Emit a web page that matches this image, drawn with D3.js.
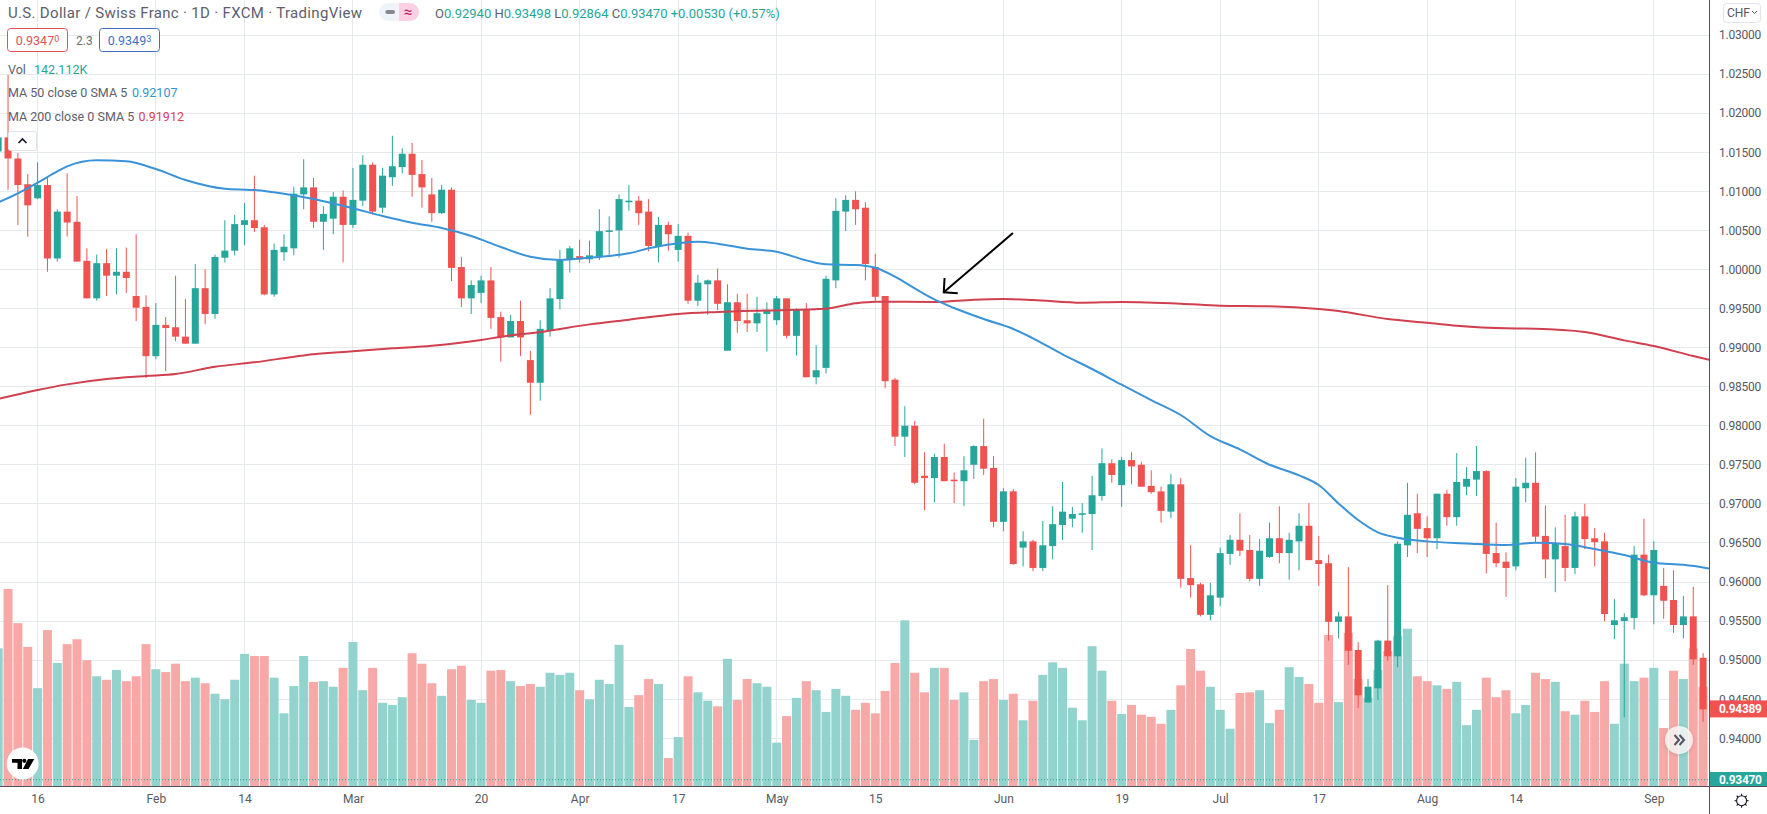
<!DOCTYPE html>
<html><head><meta charset="utf-8">
<script src="https://cdn.jsdelivr.net/npm/d3@7/dist/d3.min.js"></script>
<style>
html,body{margin:0;padding:0;background:#fff;overflow:hidden}
svg{display:block}
text{font-family:Roboto,"Liberation Sans",sans-serif}
</style></head><body><div id="c"></div>
<script>
// First candle is session index -4; session 0 = 16 Jan
const firstIndex = -4;
const opens = [1.0151,1.0169,1.0142,1.0109,1.0091,1.0108,1.0014,1.0074,1.0061,1.0011,
0.9963,1.0008,0.9992,0.9997,0.9966,0.9952,0.9889,0.9929,0.9926,0.9914,
0.9905,0.9976,0.9943,1.0015,1.0024,1.0057,1.0063,1.0054,0.9968,1.0022,
1.0027,1.0096,1.0105,1.0061,1.0065,1.0093,1.0057,1.0088,1.0134,1.0079,
1.0118,1.0131,1.0148,1.0122,1.0096,1.0072,1.0102,1.0003,0.9963,0.9970,
0.9986,0.9939,0.9913,0.9934,0.9884,0.9855,0.9922,0.9962,1.0012,1.0017,
1.0013,1.0017,1.0048,1.0050,1.0086,1.0088,1.0074,1.0030,1.0057,1.0025,
1.0043,0.9960,0.9981,0.9986,0.9896,0.9958,0.9935,0.9931,0.9943,0.9935,
0.9963,0.9915,0.9949,0.9862,0.9874,0.9986,1.0074,1.0089,1.0079,1.0003,
0.9966,0.9859,0.9786,0.9800,0.9736,0.9733,0.9760,0.9731,0.9729,0.9750,
0.9774,0.9746,0.9677,0.9716,0.9644,0.9652,0.9618,0.9646,0.9673,0.9681,
0.9686,0.9687,0.9710,0.9752,0.9724,0.9756,0.9750,0.9723,0.9716,0.9690,
0.9725,0.9605,0.9597,0.9558,0.9580,0.9636,0.9654,0.9641,0.9604,0.9632,
0.9656,0.9637,0.9652,0.9672,0.9628,0.9624,0.9549,0.9556,0.9513,0.9446,
0.9464,0.9525,0.9505,0.9647,0.9688,0.9669,0.9656,0.9713,0.9683,0.9722,
0.9731,0.9742,0.9637,0.9626,0.9620,0.9720,0.9727,0.9659,0.9629,0.9646,
0.9618,0.9684,0.9656,0.9652,0.9545,0.9550,0.9554,0.9635,0.9583,0.9595,
0.9577,0.9545,0.9556,0.9503];
const closes = [1.0169,1.0142,1.0108,1.0082,1.0108,1.0014,1.0074,1.0060,1.0010,0.9963,
1.0008,0.9992,0.9997,0.9989,0.9951,0.9889,0.9929,0.9925,0.9914,0.9905,
0.9976,0.9943,1.0016,1.0024,1.0058,1.0063,1.0053,0.9968,1.0025,1.0029,
1.0097,1.0105,1.0061,1.0071,1.0093,1.0057,1.0089,1.0134,1.0074,1.0120,
1.0132,1.0148,1.0121,1.0105,1.0072,1.0102,1.0002,0.9963,0.9980,0.9986,
0.9938,0.9913,0.9934,0.9913,0.9855,0.9924,0.9963,1.0013,1.0027,1.0013,
1.0018,1.0049,1.0050,1.0090,1.0088,1.0072,1.0030,1.0057,1.0045,1.0043,
0.9960,0.9983,0.9986,0.9956,0.9958,0.9934,0.9931,0.9944,0.9948,0.9963,
0.9915,0.9948,0.9862,0.9871,0.9988,1.0075,1.0089,1.0077,1.0007,0.9965,
0.9857,0.9786,0.9800,0.9727,0.9733,0.9760,0.9729,0.9729,0.9743,0.9774,
0.9745,0.9677,0.9716,0.9623,0.9652,0.9618,0.9647,0.9674,0.9690,0.9687,
0.9688,0.9711,0.9752,0.9737,0.9756,0.9748,0.9722,0.9715,0.9691,0.9725,
0.9604,0.9596,0.9558,0.9583,0.9637,0.9654,0.9640,0.9604,0.9640,0.9656,
0.9637,0.9654,0.9672,0.9628,0.9623,0.9549,0.9556,0.9512,0.9455,0.9466,
0.9525,0.9505,0.9649,0.9686,0.9668,0.9656,0.9713,0.9683,0.9728,0.9732,
0.9742,0.9636,0.9624,0.9618,0.9722,0.9727,0.9658,0.9629,0.9650,0.9618,
0.9684,0.9655,0.9651,0.9559,0.9551,0.9555,0.9635,0.9583,0.9641,0.9576,
0.9545,0.9556,0.9501,0.9437];
const highs = [1.0176,1.0249,1.0149,1.0122,1.0137,1.0117,1.0077,1.0123,1.0094,1.0027,
1.0019,1.0026,1.0027,1.0028,1.0045,0.9967,0.9957,0.9939,0.9992,0.9962,
1.0007,1.0000,1.0019,1.0063,1.0070,1.0085,1.0120,1.0057,1.0033,1.0045,
1.0106,1.0141,1.0117,1.0081,1.0099,1.0101,1.0130,1.0146,1.0137,1.0130,
1.0171,1.0155,1.0162,1.0140,1.0117,1.0108,1.0105,1.0016,0.9986,0.9992,
1.0003,0.9946,0.9942,0.9960,0.9896,0.9935,0.9976,1.0025,1.0030,1.0038,
1.0037,1.0077,1.0068,1.0096,1.0108,1.0094,1.0090,1.0067,1.0061,1.0058,
1.0047,0.9993,0.9987,1.0001,0.9981,0.9969,0.9969,0.9965,0.9958,0.9966,
0.9963,0.9950,0.9957,0.9903,0.9992,1.0091,1.0095,1.0100,1.0086,1.0020,
0.9966,0.9861,0.9825,0.9806,0.9766,0.9764,0.9777,0.9740,0.9761,0.9775,
0.9809,0.9761,0.9720,0.9719,0.9665,0.9654,0.9678,0.9697,0.9728,0.9696,
0.9701,0.9736,0.9771,0.9757,0.9760,0.9766,0.9754,0.9743,0.9722,0.9738,
0.9733,0.9647,0.9599,0.9599,0.9644,0.9660,0.9688,0.9660,0.9655,0.9676,
0.9697,0.9663,0.9688,0.9701,0.9659,0.9635,0.9562,0.9619,0.9523,0.9476,
0.9526,0.9596,0.9652,0.9727,0.9713,0.9684,0.9713,0.9718,0.9765,0.9747,
0.9774,0.9743,0.9676,0.9638,0.9733,0.9759,0.9766,0.9698,0.9670,0.9686,
0.9690,0.9700,0.9669,0.9663,0.9578,0.9560,0.9646,0.9681,0.9652,0.9618,
0.9615,0.9582,0.9594,0.9509];
const lows = [1.0149,1.0102,1.0057,1.0042,1.0090,0.9997,1.0010,1.0042,1.0010,0.9963,
0.9960,0.9966,0.9968,0.9970,0.9934,0.9861,0.9885,0.9870,0.9908,0.9905,
0.9905,0.9930,0.9937,1.0009,1.0018,1.0031,1.0048,0.9967,0.9965,1.0011,
1.0018,1.0077,1.0053,1.0025,1.0045,1.0009,1.0053,1.0081,1.0070,1.0072,
1.0107,1.0123,1.0093,1.0079,1.0061,1.0071,0.9985,0.9952,0.9943,0.9957,
0.9924,0.9882,0.9913,0.9889,0.9814,0.9832,0.9914,0.9949,0.9996,1.0009,
1.0008,1.0012,1.0018,1.0015,1.0075,1.0057,1.0023,1.0009,1.0024,1.0010,
0.9956,0.9953,0.9942,0.9948,0.9896,0.9919,0.9920,0.9920,0.9895,0.9929,
0.9912,0.9890,0.9862,0.9853,0.9867,0.9976,1.0049,1.0057,0.9986,0.9960,
0.9848,0.9774,0.9760,0.9725,0.9692,0.9702,0.9729,0.9701,0.9697,0.9732,
0.9737,0.9670,0.9665,0.9622,0.9620,0.9614,0.9614,0.9629,0.9654,0.9670,
0.9663,0.9641,0.9704,0.9727,0.9696,0.9725,0.9722,0.9713,0.9676,0.9682,
0.9593,0.9580,0.9556,0.9551,0.9569,0.9622,0.9633,0.9601,0.9595,0.9631,
0.9624,0.9603,0.9615,0.9628,0.9595,0.9525,0.9528,0.9494,0.9439,0.9445,
0.9449,0.9499,0.9491,0.9632,0.9637,0.9632,0.9642,0.9672,0.9672,0.9711,
0.9710,0.9611,0.9619,0.9581,0.9615,0.9702,0.9650,0.9605,0.9587,0.9601,
0.9610,0.9642,0.9620,0.9550,0.9527,0.9427,0.9539,0.9582,0.9546,0.9553,
0.9535,0.9528,0.9494,0.9421];
const volumes = [197,282,233,199,140,223,176,203,210,180,157,152,166,150,157,203,167,163,175,150,
155,147,132,124,152,189,186,186,155,104,143,186,149,150,142,169,206,137,169,119,
116,127,190,175,147,129,167,172,123,119,165,166,150,143,146,142,162,159,162,137,
124,152,146,202,113,130,153,146,40,70,157,134,122,114,182,123,153,147,142,62,
100,126,150,137,106,139,129,109,119,104,136,176,237,162,134,169,169,123,134,66,
150,153,123,132,94,122,159,177,169,112,94,200,165,122,103,116,102,99,89,109,
144,196,165,142,109,82,133,134,137,90,109,170,156,146,119,216,120,219,153,126,
166,193,215,225,157,150,144,139,149,87,109,155,127,137,104,116,162,153,149,107,
102,122,106,150,89,175,150,155,169,83,165,153,197,142];

const ma50Index = [-4,-2,0,2,3,6,9,12,15,19,22,25,28,32,35,38,41,44,47,50,53,56,58,60,62,65,67,69,72,75,78,80,83,85,87,89,91,93,96,99,101,104,107,110,113,116,119,122,125,128,130,132,134,136,138,141,145,149,152,155,158,161,164,167,169,170];
const ma50Values = [1.00858,1.00974,1.01110,1.01255,1.01319,1.01396,1.01383,1.01285,1.01144,1.01033,1.01016,1.00969,1.00901,1.00782,1.00684,1.00598,1.00530,1.00428,1.00287,1.00163,1.00121,1.00150,1.00172,1.00206,1.00270,1.00334,1.00355,1.00330,1.00266,1.00227,1.00116,1.00065,1.00057,1.00022,0.99907,0.99758,0.99617,0.99506,0.99365,0.99238,0.99118,0.98913,0.98726,0.98525,0.98329,0.98137,0.97868,0.97697,0.97501,0.97365,0.97241,0.97006,0.96793,0.96635,0.96567,0.96520,0.96494,0.96473,0.96503,0.96486,0.96422,0.96345,0.96247,0.96221,0.96187,0.96162];
const ma200Index = [-4,0,3,7,11,14,18,22,27,32,36,40,45,47,51,56,60,65,69,74,80,83,85,91,95,98,101,106,110,116,120,125,130,132,137,141,144,149,152,157,161,164,168,170];
const ma200Values = [0.98342,0.98457,0.98529,0.98598,0.98636,0.98662,0.98755,0.98811,0.98900,0.98952,0.98990,0.99024,0.99097,0.99139,0.99199,0.99297,0.99357,0.99429,0.99455,0.99476,0.99498,0.99566,0.99587,0.99583,0.99613,0.99621,0.99609,0.99574,0.99583,0.99562,0.99536,0.99528,0.99493,0.99468,0.99365,0.99318,0.99280,0.99246,0.99242,0.99199,0.99092,0.99020,0.98892,0.98832];

const priceTicks = [1.03,1.025,1.02,1.015,1.01,1.005,1,0.995,0.99,0.985,0.98,0.975,0.97,0.965,0.96,0.955,0.95,0.945,0.94];
const timeTickIndex = [0,12,21,32,45,55,65,75,85,98,110,120,130,141,150,164];
const timeTickLabels = ["16","Feb","14","Mar","20","Apr","17","May","15","Jun","19","Jul","17","Aug","14","Sep"];
const lastPrice = 0.93470, liveQuote = 0.94389;
const arrowIndex = [98.97,91.95], arrowPrice = [1.00466,0.99707];
const arrowHeadIndex = [92.03,91.95,93.37], arrowHeadPrice = [0.99890,0.99707,0.99694];

const W=1767,H=814,AX=1709,BY=786;
const UP="#26a69a",DN="#ef5350",UPV="#92d3cd",DNV="#f7a9a7",GRID="#e6e9ed",TXT="#565963";
const x=d3.scaleLinear().domain([0,1]).range([37.6,47.455]);
const y=d3.scaleLinear().domain([1.03,0.94]).range([35,738.3]);
const yv=d3.scaleLinear().domain([0,1000]).range([BY,87]);

const svg=d3.select("#c").append("svg").attr("width",W).attr("height",H);
svg.append("rect").attr("width",W).attr("height",H).attr("fill","#fff");
svg.append("clipPath").attr("id","plot").append("rect").attr("width",AX).attr("height",BY);

// grid
const grid=svg.append("g").attr("shape-rendering","crispEdges").attr("stroke",GRID);
grid.selectAll(".h").data(priceTicks).join("line").attr("x1",0).attr("x2",AX).attr("y1",d=>y(d)).attr("y2",d=>y(d));
grid.selectAll(".v").data(timeTickIndex).join("line").attr("x1",d=>x(d)).attr("x2",d=>x(d)).attr("y1",0).attr("y2",BY);

const rows=opens.map((o,k)=>({i:k+firstIndex,o,c:closes[k],h:highs[k],l:lows[k],v:volumes[k],up:closes[k]>=o}));
const plot=svg.append("g").attr("clip-path","url(#plot)");
plot.append("g").selectAll("rect").data(rows).join("rect")
 .attr("x",d=>x(d.i)-4.5).attr("width",9).attr("y",d=>yv(d.v)).attr("height",d=>BY-yv(d.v))
 .attr("fill",d=>d.up?UPV:DNV);
// last price dotted
plot.append("line").attr("x1",0).attr("x2",AX).attr("y1",y(lastPrice)).attr("y2",y(lastPrice))
 .attr("stroke",UP).attr("stroke-dasharray","1 2");
plot.append("g").selectAll("line").data(rows).join("line")
 .attr("x1",d=>x(d.i)).attr("x2",d=>x(d.i)).attr("y1",d=>y(d.h)).attr("y2",d=>y(d.l))
 .attr("stroke",d=>d.up?UP:DN).attr("stroke-width",1);
plot.append("g").selectAll("rect").data(rows).join("rect")
 .attr("x",d=>x(d.i)-3.5).attr("width",7)
 .attr("y",d=>y(Math.max(d.o,d.c))).attr("height",d=>Math.max(1.5,y(Math.min(d.o,d.c))-y(Math.max(d.o,d.c))))
 .attr("fill",d=>d.up?UP:DN);
const line=d3.line().x(d=>x(d[0])).y(d=>y(d[1])).curve(d3.curveMonotoneX);
plot.append("path").attr("d",line(d3.zip(ma200Index,ma200Values))).attr("fill","none").attr("stroke","#d1404f").attr("stroke-width",2);
plot.append("path").attr("d",line(d3.zip(ma50Index,ma50Values))).attr("fill","none").attr("stroke","#3a93d8").attr("stroke-width",2);

// annotation arrow
const aLine=d3.line().x(d=>x(d[0])).y(d=>y(d[1]));
plot.append("path").attr("d",aLine(d3.zip(arrowIndex,arrowPrice))).attr("fill","none").attr("stroke","#000").attr("stroke-width",2);
plot.append("path").attr("d",aLine(d3.zip(arrowHeadIndex,arrowHeadPrice))).attr("fill","none").attr("stroke","#000").attr("stroke-width",2);

// axes
const ya=svg.append("g").attr("transform",`translate(${AX},0)`)
 .call(d3.axisRight(y).tickValues(priceTicks).tickSize(0).tickPadding(10).tickFormat(d3.format(".5f")));
ya.selectAll("text").attr("font-size",12).attr("fill",TXT).style("font-family","Roboto").style("letter-spacing","-0.25px");
ya.select(".domain").remove();
const xa=svg.append("g").attr("transform",`translate(0,${BY})`)
 .call(d3.axisBottom(x).tickValues(timeTickIndex).tickSize(0).tickPadding(8).tickFormat((d,k)=>timeTickLabels[k]));
xa.selectAll("text").attr("font-size",12).attr("fill",TXT).style("font-family","Roboto");
xa.select(".domain").remove();
svg.append("line").attr("x1",0).attr("x2",W).attr("y1",BY+.5).attr("y2",BY+.5).attr("stroke","#50535e");
svg.append("line").attr("x1",AX+.5).attr("x2",AX+.5).attr("y1",0).attr("y2",H).attr("stroke","#50535e");

// price labels
{
 const yc=y(liveQuote)+1;
 svg.append("rect").attr("x",AX+1).attr("width",W-AX-1).attr("y",yc-8.5).attr("height",17).attr("fill",DN);
 svg.append("text").attr("x",1719).attr("y",yc+4.5).attr("font-size",12).attr("font-weight",700).attr("fill","#fff").style("letter-spacing","-0.3px").text(d3.format(".5f")(liveQuote));
 svg.append("rect").attr("x",AX+1).attr("width",W-AX-1).attr("y",772).attr("height",14).attr("fill",UP);
 svg.append("text").attr("x",1719).attr("y",784).attr("font-size",12).attr("font-weight",700).attr("fill","#fff").style("letter-spacing","-0.3px").text(d3.format(".5f")(lastPrice));
}

// legend
function T(xp,yp,s,col,fs,anchor){return svg.append("text").attr("x",xp).attr("y",yp).attr("font-size",fs||12).attr("fill",col||TXT).attr("text-anchor",anchor||"start").text(s);}
T(8,18,"U.S. Dollar / Swiss Franc · 1D · FXCM · TradingView","#5d606b",15).style("letter-spacing","0.32px");
svg.append("rect").attr("x",379).attr("y",3).attr("width",40).attr("height",18).attr("rx",9).attr("fill","#f0f3fa");
svg.append("path").attr("d","M399 3h11a9 9 0 0 1 0 18h-11z").attr("fill","#fcd0e3");
svg.append("rect").attr("x",385.3).attr("y",10).attr("width",9.7).attr("height",4).attr("rx",2).attr("fill","#868993");
T(408,17,"≈","#c2185b",15,"middle");
const ohlc=svg.append("text").attr("x",435).attr("y",18).attr("font-size",13).attr("fill",UP).style("white-space","pre");
[["O",0],["0.92940",1],[" H",0],["0.93498",1],[" L",0],["0.92864",1],[" C",0],["0.93470",1],[" +0.00530 (+0.57%)",1]].forEach(p=>{
 ohlc.append("tspan").attr("fill",p[1]?UP:"#5d606b").text(p[0]);
});
function box(x0,w,col,s,sup){
 svg.append("rect").attr("x",x0+.5).attr("y",28.5).attr("width",w).attr("height",23).attr("rx",3).attr("fill","#fff").attr("stroke",col);
 const t=svg.append("text").attr("x",x0+w/2+.5).attr("y",45).attr("font-size",12.5).attr("fill",col).attr("text-anchor","middle");
 t.append("tspan").text(s);
 t.append("tspan").attr("font-size",9).attr("dy",-3).text(sup);
}
box(7,60,"#e0515c","0.9347","0");
T(76,45,"2.3","#6a6d78",12);
box(99,60,"#3f6fc4","0.9349","3");
T(8,73.5,"Vol","#5d606b",12.5);
T(34,73.5,"142.112K",UP,12.5);
T(8,97,"MA 50 close 0 SMA 5","#5d606b",12.5);
T(132,97,"0.92107","#2f96d0",12.5);
T(8,121,"MA 200 close 0 SMA 5","#5d606b",12.5);
T(138.5,121,"0.91912","#d9405a",12.5);
svg.append("rect").attr("x",8.5).attr("y",131.5).attr("width",28).attr("height",19).attr("rx",2).attr("fill","#fff").attr("stroke","#e0e3eb");
svg.append("path").attr("d","M18.5 143l4-4 4 4").attr("fill","none").attr("stroke","#131722").attr("stroke-width",1.6);

// CHF button
svg.append("rect").attr("x",1723.5).attr("y",3.5).attr("width",37).attr("height",19).attr("rx",3).attr("fill","#fff").attr("stroke","#e0e3eb");
T(1727,17,"CHF",TXT,12);
svg.append("path").attr("d","M1752 11l2.5 2.5 2.5-2.5").attr("fill","none").attr("stroke",TXT).attr("stroke-width",1);

// TV logo
svg.append("circle").attr("cx",22.7).attr("cy",763.5).attr("r",16).attr("fill","#fff");
svg.append("path").attr("d","M12 759h10v10h-4.5v-6.3h-5.5zM28 759h6.3l-5.8 10h-5.6z").attr("fill","#000");
svg.append("circle").attr("cx",24.3).attr("cy",760.8).attr("r",2.1).attr("fill","#000");

// scroll button
svg.append("circle").attr("cx",1679).attr("cy",740).attr("r",14).attr("fill","#fbfafa").attr("fill-opacity",.82).style("filter","drop-shadow(0 1px 2px rgba(0,0,0,.15))");
svg.append("path").attr("d","M1674.5 735l4.5 5-4.5 5M1679.5 735l4.5 5-4.5 5").attr("fill","none").attr("stroke","#50535e").attr("stroke-width",2);

// settings
const gx=1741.6,gy=800.7;
svg.append("circle").attr("cx",gx).attr("cy",gy).attr("r",5).attr("fill","none").attr("stroke","#131722").attr("stroke-width",1.1);
d3.range(8).forEach(k=>{const a=k*Math.PI/4;
 svg.append("line").attr("x1",gx+5*Math.cos(a)).attr("y1",gy+5*Math.sin(a)).attr("x2",gx+7*Math.cos(a)).attr("y2",gy+7*Math.sin(a)).attr("stroke","#131722").attr("stroke-width",1.1);
});
</script></body></html>
